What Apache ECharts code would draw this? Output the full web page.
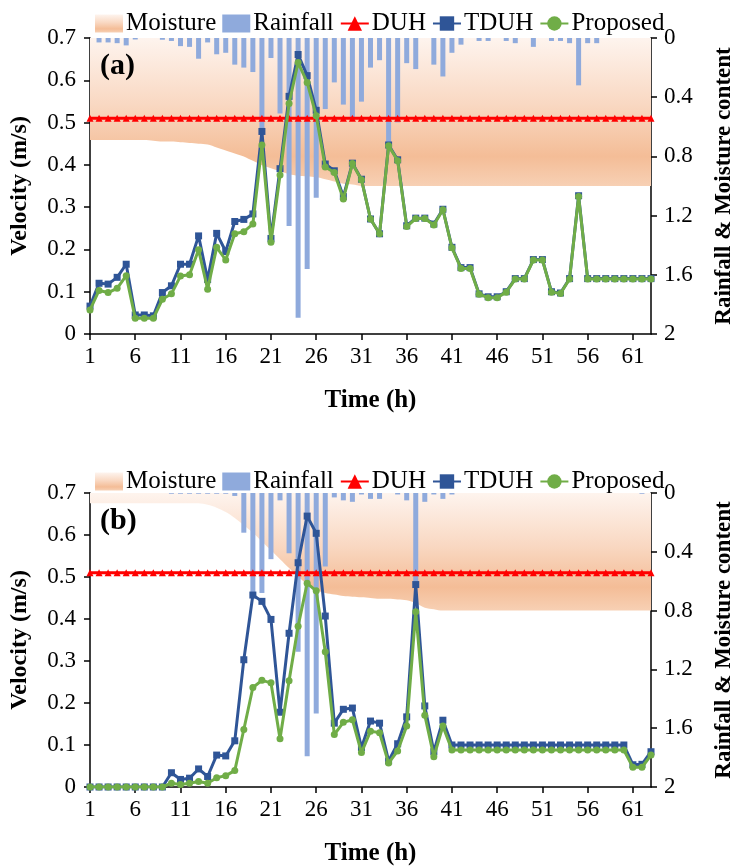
<!DOCTYPE html>
<html>
<head>
<meta charset="utf-8">
<script src="https://cdn.jsdelivr.net/npm/echarts@6/dist/echarts.min.js"></script>
<style>
  html, body { margin: 0; padding: 0; background: #fff; }
  #chart { width: 744px; height: 867px; }
</style>
</head>
<body>
<div id="chart"></div>
<script>
// time steps (h)
const hours = ['1','2','3','4','5','6','7','8','9','10','11','12','13','14','15','16','17','18','19','20',
  '21','22','23','24','25','26','27','28','29','30','31','32','33','34','35','36','37','38','39','40',
  '41','42','43','44','45','46','47','48','49','50','51','52','53','54','55','56','57','58','59','60',
  '61','62','63']

// ---- panel (a) ----
const moistureA = [0.69,0.69,0.69,0.69,0.69,0.69,0.69,0.695,0.70,0.70,0.705,0.71,0.715,0.72,0.74,0.76,0.78,0.80,0.83,0.86,
  0.88,0.90,0.92,0.93,0.935,0.94,0.955,0.97,0.985,0.99,1.0,1.0,1.0,1.0,1.0,1.0,1.0,1.0,1.0,1.0,
  1.0,1.0,1.0,1.0,1.0,1.0,1.0,1.0,1.0,1.0,1.0,1.0,1.0,1.0,1.0,1.0,1.0,1.0,1.0,1.0,
  1.0,1.0,1.0]
const rainA = [0,0.03,0.03,0.035,0.05,0.01,0,0,0.012,0.02,0.055,0.06,0.14,0.03,0.11,0.1,0.18,0.2,0.23,0.62,
  0.135,0.51,1.27,1.89,1.56,1.08,0.48,0.3,0.45,0.55,0.43,0.2,0.15,0.71,0.57,0.17,0.21,0,0.18,0.26,
  0.1,0.045,0,0.02,0.02,0,0.02,0.035,0,0.06,0,0.02,0.02,0.035,0.32,0.035,0.035,0,0,0,
  0,0,0]
const duhA = [0.51,0.51,0.51,0.51,0.51,0.51,0.51,0.51,0.51,0.51,0.51,0.51,0.51,0.51,0.51,0.51,0.51,0.51,0.51,0.51,
  0.51,0.51,0.51,0.51,0.51,0.51,0.51,0.51,0.51,0.51,0.51,0.51,0.51,0.51,0.51,0.51,0.51,0.51,0.51,0.51,
  0.51,0.51,0.51,0.51,0.51,0.51,0.51,0.51,0.51,0.51,0.51,0.51,0.51,0.51,0.51,0.51,0.51,0.51,0.51,0.51,
  0.51,0.51,0.51]
const tduhA = [0.066,0.12,0.118,0.134,0.165,0.045,0.045,0.043,0.098,0.114,0.165,0.165,0.232,0.129,0.238,0.195,0.266,0.271,0.284,0.479,
  0.226,0.391,0.562,0.661,0.611,0.529,0.402,0.386,0.325,0.404,0.366,0.272,0.237,0.447,0.412,0.256,0.274,0.274,0.26,0.295,
  0.205,0.157,0.157,0.095,0.088,0.088,0.1,0.131,0.131,0.176,0.176,0.1,0.097,0.131,0.327,0.131,0.131,0.131,0.131,0.131,
  0.131,0.131,0.131]
const proposedA = [0.057,0.103,0.098,0.108,0.138,0.037,0.037,0.037,0.082,0.095,0.137,0.14,0.199,0.106,0.205,0.175,0.237,0.242,0.26,0.447,
  0.217,0.376,0.545,0.642,0.595,0.516,0.395,0.382,0.319,0.403,0.365,0.272,0.237,0.445,0.41,0.254,0.273,0.273,0.258,0.294,
  0.204,0.155,0.155,0.094,0.086,0.086,0.099,0.13,0.13,0.175,0.175,0.099,0.096,0.13,0.325,0.13,0.13,0.13,0.13,0.13,
  0.13,0.13,0.13]

// ---- panel (b) ----
const moistureB = [0.07,0.07,0.07,0.07,0.07,0.07,0.07,0.07,0.07,0.07,0.07,0.07,0.07,0.08,0.10,0.13,0.17,0.22,0.27,0.33,
  0.39,0.45,0.51,0.57,0.62,0.66,0.68,0.69,0.70,0.705,0.71,0.715,0.72,0.72,0.725,0.73,0.75,0.78,0.79,0.80,
  0.80,0.80,0.80,0.80,0.80,0.80,0.80,0.80,0.80,0.80,0.80,0.80,0.80,0.80,0.80,0.80,0.80,0.80,0.80,0.80,
  0.80,0.80,0.80]
const rainB = [0,0,0,0,0,0,0,0,0,0.005,0.005,0.005,0.005,0.005,0.005,0.005,0.02,0.27,0.69,0.68,
  0.45,0.05,0.41,1.08,1.79,1.5,0.5,0.03,0.05,0.06,0.01,0.04,0.04,0,0.01,0.05,0.6,0.06,0.01,0.04,
  0.01,0,0,0,0,0,0,0,0,0,0,0,0,0,0,0,0,0,0,0,
  0,0.005,0]
const duhB = duhA
const tduhB = [0,0,0,0,0,0,0,0,0,0.034,0.018,0.021,0.043,0.025,0.076,0.074,0.11,0.303,0.457,0.442,
  0.399,0.178,0.366,0.534,0.645,0.604,0.407,0.152,0.185,0.188,0.094,0.157,0.152,0.062,0.103,0.167,0.482,0.193,0.084,0.159,
  0.1,0.1,0.1,0.1,0.1,0.1,0.1,0.1,0.1,0.1,0.1,0.1,0.1,0.1,0.1,0.1,0.1,0.1,0.1,0.1,
  0.053,0.054,0.084]
const proposedB = [0,0,0,0,0,0,0,0,0,0.009,0.006,0.009,0.013,0.009,0.022,0.027,0.039,0.137,0.237,0.254,
  0.248,0.115,0.253,0.383,0.485,0.467,0.322,0.125,0.154,0.16,0.082,0.133,0.129,0.057,0.086,0.145,0.417,0.171,0.072,0.145,
  0.088,0.088,0.088,0.088,0.088,0.088,0.088,0.088,0.088,0.088,0.088,0.088,0.088,0.088,0.088,0.088,0.088,0.088,0.088,0.088,
  0.047,0.047,0.076]

const FONT = 'Liberation Serif'
const RAIN = '#8FAADC'
const TDUH = '#2F5597'
const PROP = '#70AD47'

const moistureFill = () => new echarts.graphic.LinearGradient(0, 0, 0, 1, [
  { offset: 0, color: '#FEF4EE' },
  { offset: 0.45, color: '#F9D8C2' },
  { offset: 0.8, color: '#F4BD97' },
  { offset: 1, color: '#F7D0B4' }
])

const chart = echarts.init(document.getElementById('chart'))

// build axes/series for one panel
function panel(idx, moisture, rain, duh, tduh, proposed) {
  const xAxis = {
    type: 'category',
    gridIndex: idx,
    data: hours,
    boundaryGap: false,
    name: 'Time (h)',
    nameLocation: 'middle',
    nameGap: 54,
    nameTextStyle: { fontFamily: FONT, fontWeight: 'bold', fontSize: 25, color: '#000' },
    axisLine: { lineStyle: { color: '#000', width: 1.5 } },
    axisTick: { interval: 4, length: 6, lineStyle: { color: '#000', width: 1.5 } },
    axisLabel: { interval: 4, fontFamily: FONT, fontSize: 23, color: '#000', margin: 11 },
    splitLine: { show: false }
  }
  const yLeft = {
    type: 'value',
    gridIndex: idx,
    min: 0, max: 0.7, interval: 0.1,
    position: 'left',
    name: 'Velocity (m/s)',
    nameLocation: 'middle',
    nameRotate: 90,
    nameGap: 58,
    nameTextStyle: { fontFamily: FONT, fontWeight: 'bold', fontSize: 24, color: '#000' },
    axisLine: { show: true, lineStyle: { color: '#000', width: 1.5 } },
    axisTick: { show: true, length: 6, lineStyle: { color: '#000', width: 1.5 } },
    axisLabel: { fontFamily: FONT, fontSize: 23, color: '#000', margin: 14,
      formatter: v => v === 0 ? '0' : v.toFixed(1) },
    splitLine: { show: false }
  }
  const yRight = {
    type: 'value',
    gridIndex: idx,
    min: 0, max: 2, interval: 0.4,
    inverse: true,
    position: 'right',
    name: 'Rainfall & Moisture content',
    nameLocation: 'middle',
    nameRotate: 90,
    nameGap: 62,
    nameTextStyle: { fontFamily: FONT, fontWeight: 'bold', fontSize: 23, color: '#000' },
    axisLine: { show: true, lineStyle: { color: '#000', width: 1.5 } },
    axisTick: { show: true, length: 6, lineStyle: { color: '#000', width: 1.5 } },
    axisLabel: { fontFamily: FONT, fontSize: 23, color: '#000', margin: 13,
      formatter: v => String(+v.toFixed(1)) },
    splitLine: { show: false }
  }
  const yl = idx * 2, yr = idx * 2 + 1
  const series = [
    {
      name: 'Moisture', type: 'line', xAxisIndex: idx, yAxisIndex: yr,
      data: moisture, smooth: 0.3, symbol: 'none',
      lineStyle: { width: 0 },
      itemStyle: { color: '#F5C6A5' },
      areaStyle: { color: moistureFill(), opacity: 1 },
      z: 1
    },
    {
      name: 'Rainfall', type: 'bar', xAxisIndex: idx, yAxisIndex: yr,
      data: rain, barWidth: 5, itemStyle: { color: RAIN }, z: 2
    },
    {
      name: 'DUH', type: 'line', xAxisIndex: idx, yAxisIndex: yl,
      data: duh, symbol: 'triangle', symbolSize: 7, showAllSymbol: true,
      lineStyle: { color: '#FF0000', width: 3 },
      itemStyle: { color: '#FF0000' }, z: 3
    },
    {
      name: 'TDUH', type: 'line', xAxisIndex: idx, yAxisIndex: yl,
      data: tduh, symbol: 'rect', symbolSize: 7, showAllSymbol: true,
      lineStyle: { color: TDUH, width: 3 },
      itemStyle: { color: TDUH }, z: 4
    },
    {
      name: 'Proposed', type: 'line', xAxisIndex: idx, yAxisIndex: yl,
      data: proposed, symbol: 'circle', symbolSize: 7, showAllSymbol: true,
      lineStyle: { color: PROP, width: 3 },
      itemStyle: { color: PROP }, z: 5
    }
  ]
  return { xAxis, yAxes: [yLeft, yRight], series }
}

const pa = panel(0, moistureA, rainA, duhA, tduhA, proposedA)
const pb = panel(1, moistureB, rainB, duhB, tduhB, proposedB)

const legendData = [
  { name: 'Moisture', icon: 'rect', itemStyle: { color: moistureFill() } },
  { name: 'Rainfall', icon: 'rect' },
  'DUH', 'TDUH', 'Proposed'
]
const legendBase = {
  data: legendData,
  left: 90,
  itemWidth: 28,
  itemHeight: 18,
  itemGap: 6,
  textStyle: { fontFamily: FONT, fontSize: 25, color: '#000', padding: [0, 0, 0, -2] },
  selectedMode: false
}

const option = {
  backgroundColor: '#fff',
  animation: false,
  textStyle: { fontFamily: FONT },
  title: [
    { text: '(a)', left: 95, top: 46, textStyle: { fontFamily: FONT, fontWeight: 'bold', fontSize: 30, color: '#000' } },
    { text: '(b)', left: 95, top: 501, textStyle: { fontFamily: FONT, fontWeight: 'bold', fontSize: 30, color: '#000' } }
  ],
  legend: [
    Object.assign({ top: 6 }, legendBase),
    Object.assign({ top: 464 }, legendBase)
  ],
  grid: [
    { left: 90, right: 83, top: 38, height: 296 },
    { left: 89, right: 82, top: 493, height: 299 }
  ],
  xAxis: [pa.xAxis, pb.xAxis],
  yAxis: [...pa.yAxes, ...pb.yAxes],
  series: [...pa.series, ...pb.series]
}

chart.setOption(option)
</script>
</body>
</html>
